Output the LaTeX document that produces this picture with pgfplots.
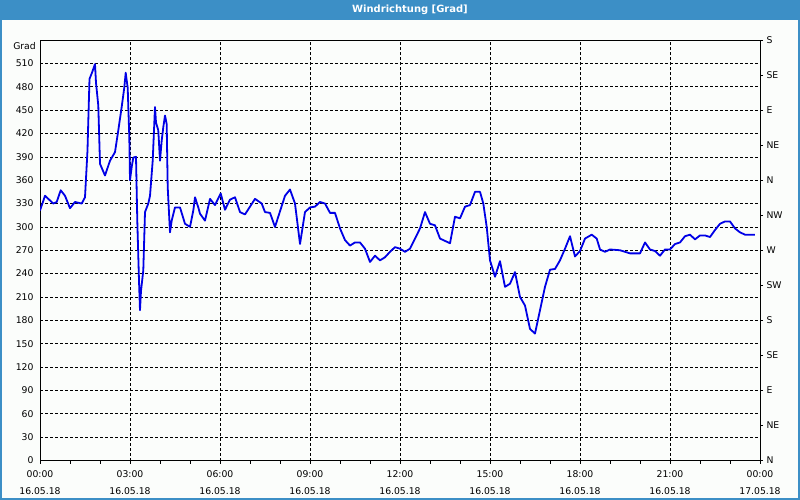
\documentclass[border=0pt]{standalone}
\usepackage{pgfplots}
\pgfplotsset{compat=1.18}
\usepackage{fontspec}
\setmainfont{DejaVu Sans}
\definecolor{barblue}{RGB}{60,143,198}
\definecolor{bgc}{RGB}{251,253,251}
\definecolor{lineblue}{RGB}{0,0,230}
\pgfplotstableread{
h deg
0.00 321
0.167 340
0.277 336
0.443 330
0.557 332
0.69 347
0.833 340
1.0 324
1.167 332
1.39 330
1.5 338
1.583 398
1.61 436
1.65 490
1.733 498
1.833 509
1.867 485
1.943 456
2.0 381
2.167 366
2.333 385
2.5 396
2.61 424
2.723 454
2.81 479
2.857 498
2.89 488
2.923 479
2.977 415
3.0 360
3.057 377
3.11 389
3.2 390
3.243 308
3.3 231
3.333 193
3.367 218
3.443 244
3.5 319
3.61 330
3.667 340
3.757 385
3.833 454
3.867 434
3.943 424
4.0 385
4.057 411
4.11 428
4.167 443
4.223 432
4.257 351
4.333 293
4.39 308
4.5 325
4.667 325
4.833 304
5.0 300
5.11 321
5.167 338
5.277 325
5.333 317
5.5 308
5.667 336
5.833 328
6.023 343
6.167 322
6.333 335
6.5 338
6.667 319
6.833 316
7.167 336
7.39 330
7.5 319
7.667 318
7.833 300
8.167 340
8.333 348
8.5 330
8.667 278
8.833 319
9.0 325
9.167 326
9.333 332
9.5 330
9.667 318
9.833 318
10.0 298
10.167 283
10.333 276
10.5 280
10.667 280
10.833 272
11.0 255
11.167 263
11.333 257
11.5 261
11.667 268
11.833 274
12.0 272
12.167 268
12.333 272
12.5 285
12.667 298
12.833 319
13.0 304
13.167 302
13.333 285
13.5 282
13.667 279
13.833 313
14.0 311
14.167 326
14.333 328
14.5 345
14.667 345
14.777 330
14.89 300
15.0 257
15.167 236
15.333 256
15.5 223
15.667 227
15.833 242
16.0 210
16.167 199
16.333 169
16.5 163
16.667 193
16.833 223
17.0 245
17.167 246
17.333 257
17.5 272
17.667 288
17.833 262
18.0 269
18.167 285
18.39 290
18.557 285
18.667 271
18.833 268
19.0 271
19.333 270
19.667 266
20.0 266
20.167 280
20.333 271
20.5 269
20.667 263
20.833 271
21.0 271
21.167 278
21.333 280
21.5 288
21.667 290
21.833 284
22.0 289
22.167 289
22.333 287
22.5 296
22.667 304
22.833 307
23.0 307
23.167 298
23.333 293
23.5 290
23.833 290
}\winddata
\begin{document}
\begin{tikzpicture}
\fill[barblue] (-40bp,-39.5bp) rectangle (760bp,460.5bp);
\fill[bgc] (-38bp,-37.5bp) rectangle (758bp,440.5bp);
\useasboundingbox (-40bp,-39.5bp) rectangle (760bp,460.5bp);
\node[text=white,font=\bfseries\fontsize{10}{12}\selectfont,inner sep=0pt] at (370bp,450.5bp) {Windrichtung [Grad]};
\begin{axis}[
  at={(0bp,0bp)}, anchor=south west,
  scale only axis, width=720bp, height=420.5bp,
  xmin=0, xmax=24, ymin=0, ymax=540,
  axis line style={black, line width=0.8bp},
  xtick={0,3,...,24},
  xticklabels={{00:00\\16.05.18},{03:00\\16.05.18},{06:00\\16.05.18},{09:00\\16.05.18},{12:00\\16.05.18},{15:00\\16.05.18},{18:00\\16.05.18},{21:00\\16.05.18},{00:00\\17.05.18}},
  minor x tick num=2,
  xtick pos=left,
  ytick pos=left,
  tick align=outside,
  major tick length=3bp, minor tick length=3bp,
  tick style={black, line width=0.6bp},
  ytick={0,30,...,510},
  yticklabels={0,30,60,90,120,150,180,210,240,270,300,330,360,390,420,450,480,510},
  ytick style={draw=none},
  xmajorgrids, ymajorgrids,
  grid style={black, line width=0.6bp, dash pattern=on 3bp off 2bp},
  tick label style={font=\fontsize{9.3}{17}\selectfont},
  xticklabel style={align=center, yshift=-4bp},
]
\addplot[lineblue, line width=1.8bp, line join=round] table[x=h,y=deg] {\winddata};
\end{axis}
\begin{axis}[
  at={(0bp,0bp)}, anchor=south west,
  scale only axis, width=720bp, height=420.5bp,
  xmin=0, xmax=24, ymin=0, ymax=540,
  axis x line=none,
  axis y line*=right,
  axis line style={black, line width=0.8bp},
  ytick={0,45,...,540},
  yticklabels={N,NE,E,SE,S,SW,W,NW,N,NE,E,SE,S},
  tick align=outside,
  major tick length=3bp,
  tick style={black, line width=0.6bp},
  tick label style={font=\fontsize{9.3}{11}\selectfont},
]
\end{axis}
\node[anchor=east,inner sep=0pt,font=\fontsize{9.3}{11}\selectfont] at (-4bp,414.5bp) {Grad};
\end{tikzpicture}
\end{document}
